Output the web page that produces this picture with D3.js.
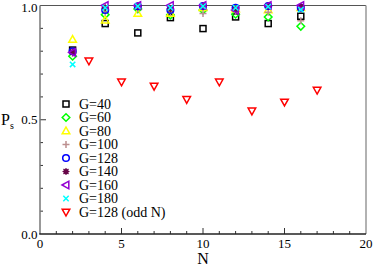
<!DOCTYPE html>
<html>
<head>
<meta charset="utf-8">
<script src="https://cdn.jsdelivr.net/npm/d3@7"></script>
<style>
  body { margin: 0; background: #fff; }
</style>
</head>
<body>
<svg id="chart" width="374" height="267" font-family="'Liberation Serif', 'DejaVu Serif', 'Times New Roman', serif"></svg>
<script>
// even N runs, one array per G
const evenN = [2, 4, 6, 8, 10, 12, 14, 16];
const oddN = [3, 5, 7, 9, 11, 13, 15, 17];

const g40 = [0.805, 0.921, 0.880, 0.947, 0.899, 0.950, 0.921, 0.953];
const g60 = [0.778, 0.960, 0.985, 0.958, 0.980, 0.962, 0.950, 0.909];
const g80 = [0.851, 0.936, 0.965, 0.965, 0.990, 0.985, 0.980, 0.990];
const g100 = [0.790, 0.970, 0.985, 0.970, 0.965, 0.975, 0.970, 0.933];
const g128 = [0.800, 0.980, 0.997, 0.980, 0.998, 0.990, 0.998, 0.990];
const g140 = [0.797, 0.990, 0.998, 0.985, 0.998, 0.985, 0.998, 0.995];
const g160 = [0.795, 1.000, 1.000, 1.000, 1.000, 0.980, 1.000, 1.000];
const g180 = [0.742, 0.990, 0.997, 0.990, 0.997, 0.990, 0.995, 0.982];
const g128odd = [0.758, 0.666, 0.647, 0.589, 0.666, 0.539, 0.578, 0.630];

const xTicks = [0, 5, 10, 15, 20];
const yTicks = [0, 0.5, 1.0];

const series = [
  {label: "G=40", n: evenN, v: g40, sym: "square", color: "#000000"},
  {label: "G=60", n: evenN, v: g60, sym: "diamond", color: "#00ff00"},
  {label: "G=80", n: evenN, v: g80, sym: "triUp", color: "#ffff00"},
  {label: "G=100", n: evenN, v: g100, sym: "plus", color: "#bc8f8f"},
  {label: "G=128", n: evenN, v: g128, sym: "circle", color: "#0000ff"},
  {label: "G=140", n: evenN, v: g140, sym: "star", color: "#670748"},
  {label: "G=160", n: evenN, v: g160, sym: "triLeft", color: "#9400d3"},
  {label: "G=180", n: evenN, v: g180, sym: "cross", color: "#00ffff"},
  {label: "G=128 (odd N)", n: oddN, v: g128odd, sym: "triDown", color: "#ff0000"}
];

const svg = d3.select("#chart");
const x = d3.scaleLinear().domain([0, 20]).range([40, 366]);
const y = d3.scaleLinear().domain([0, 1]).range([234, 5.5]);

// frame
svg.append("line").attr("x1", 40).attr("x2", 366).attr("y1", y(1)).attr("y2", y(1))
  .attr("stroke", "#555").attr("stroke-width", 1.2);
svg.append("line").attr("x1", 366).attr("x2", 366).attr("y1", y(1)).attr("y2", y(0))
  .attr("stroke", "#999").attr("stroke-width", 1.5);

// minor + major ticks, pointing inward
const tickG = svg.append("g").attr("stroke", "#333").attr("stroke-width", 1);
d3.range(1, 20).forEach(function (t) {
  const major = t % 5 === 0;
  tickG.append("line").attr("x1", x(t)).attr("x2", x(t))
    .attr("y1", y(0)).attr("y2", y(0) - (major ? 6 : 3));
});
d3.range(1, 10).forEach(function (i) {
  const t = i / 10, major = i === 5;
  tickG.append("line").attr("x1", x(0)).attr("x2", x(0) + (major ? 6 : 3))
    .attr("y1", y(t)).attr("y2", y(t));
});

svg.append("line").attr("x1", x(0)).attr("x2", x(0)).attr("y1", y(1)).attr("y2", y(0))
  .attr("stroke", "#777").attr("stroke-width", 1.5);
svg.append("line").attr("x1", x(0) - 0.75).attr("x2", 366).attr("y1", y(0)).attr("y2", y(0))
  .attr("stroke", "#222").attr("stroke-width", 1.5);

svg.selectAll(".xlab").data(xTicks).enter().append("text")
  .attr("x", d => x(d)).attr("y", 248).attr("text-anchor", "middle")
  .attr("font-size", 13).text(d => d);
svg.selectAll(".ylab").data(yTicks).enter().append("text")
  .attr("x", 37.5).attr("y", d => Math.max(y(d) + 4.5, 11.5)).attr("text-anchor", "end")
  .attr("font-size", 13).text(d => d.toFixed(1));

svg.append("text").attr("x", x(10)).attr("y", 264).attr("text-anchor", "middle")
  .attr("font-size", 16).text("N");
const pt = svg.append("text").attr("x", 1).attr("y", 125).attr("font-size", 16).text("P");
pt.append("tspan").attr("font-size", 10).attr("dy", 4).text("s");

function drawSym(sel, s) {
  const c = s.color;
  if (s.sym === "square") {
    sel.append("rect").attr("x", -3).attr("y", -3).attr("width", 6).attr("height", 6)
      .attr("fill", "none").attr("stroke", c).attr("stroke-width", 1.5);
  } else if (s.sym === "circle") {
    sel.append("circle").attr("r", 3.3).attr("fill", "none").attr("stroke", c).attr("stroke-width", 1.5);
  } else if (s.sym === "diamond") {
    sel.append("path").attr("d", "M0,-3.8L3.8,0L0,3.8L-3.8,0Z")
      .attr("fill", "none").attr("stroke", c).attr("stroke-width", 1.5);
  } else if (s.sym === "triUp") {
    sel.append("path").attr("d", "M0,-4L3.8,2.8L-3.8,2.8Z")
      .attr("fill", "none").attr("stroke", c).attr("stroke-width", 1.5);
  } else if (s.sym === "triDown") {
    sel.append("path").attr("d", "M0,4L3.8,-2.8L-3.8,-2.8Z")
      .attr("fill", "none").attr("stroke", c).attr("stroke-width", 1.5);
  } else if (s.sym === "triLeft") {
    sel.append("path").attr("d", "M-4,0L2.8,-3.8L2.8,3.8Z")
      .attr("fill", "none").attr("stroke", c).attr("stroke-width", 1.5);
  } else if (s.sym === "plus") {
    sel.append("path").attr("d", "M-3.5,0H3.5M0,-3.5V3.5")
      .attr("stroke", c).attr("stroke-width", 1.5);
  } else if (s.sym === "cross") {
    sel.append("path").attr("d", "M-2.7,-2.7L2.7,2.7M-2.7,2.7L2.7,-2.7")
      .attr("stroke", c).attr("stroke-width", 1.5);
  } else if (s.sym === "star") {
    sel.append("circle").attr("r", 2.6).attr("fill", c);
    sel.append("path").attr("d", "M-3.5,0H3.5M0,-3.5V3.5M-2.5,-2.5L2.5,2.5M-2.5,2.5L2.5,-2.5")
      .attr("stroke", c).attr("stroke-width", 1.2);
  }
}

series.forEach(function (s) {
  s.n.forEach(function (n, i) {
    const gp = svg.append("g").attr("transform", "translate(" + x(n) + "," + y(s.v[i]) + ")");
    drawSym(gp, s);
  });
});

// legend
series.forEach(function (s, i) {
  const yy = 104 + i * 13.5;
  const gp = svg.append("g").attr("transform", "translate(66," + yy + ")");
  drawSym(gp, s);
  svg.append("text").attr("x", 79).attr("y", yy + 4.5).attr("font-size", 14).text(s.label);
});
</script>
</body>
</html>
